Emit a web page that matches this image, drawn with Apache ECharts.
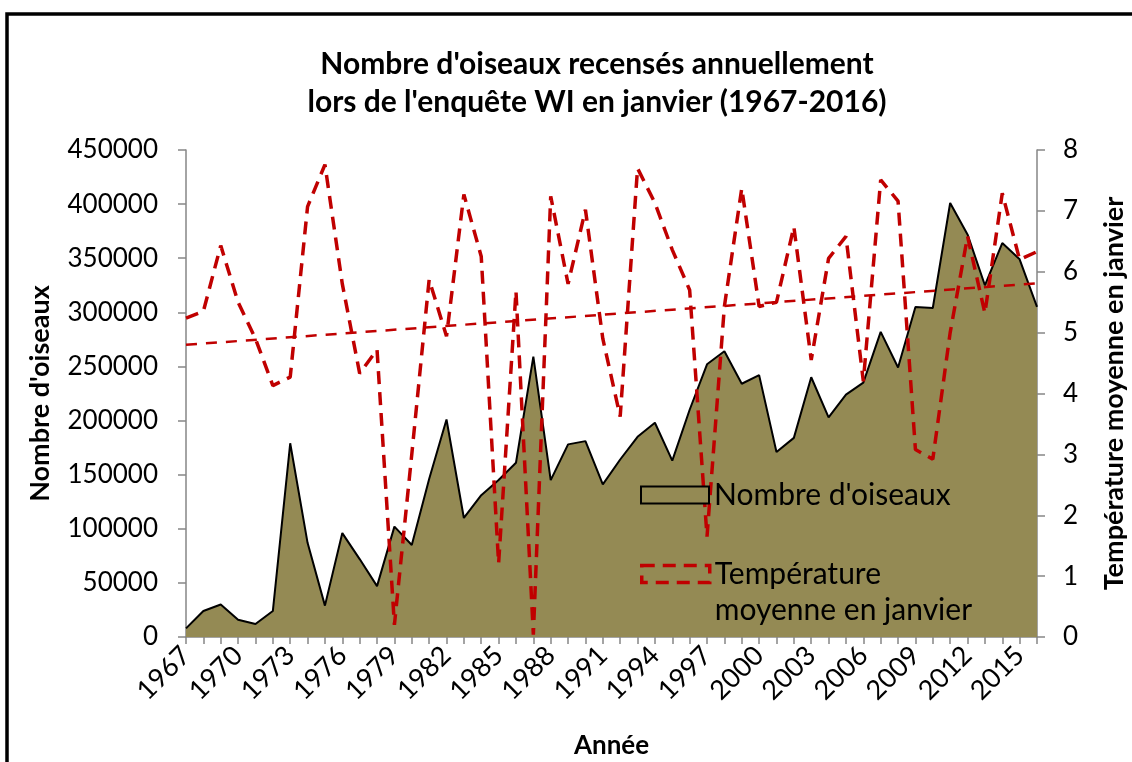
<!DOCTYPE html>
<html>
<head>
<meta charset="utf-8">
<script src="https://cdn.jsdelivr.net/npm/echarts@6/dist/echarts.min.js"></script>
<style>
html,body{margin:0;padding:0;background:#fff;}
#chart{width:1132px;height:762px;}
</style>
</head>
<body>
<div id="chart"></div>
<script>
const years = [];
for (let y = 1967; y <= 2016; y++) years.push(String(y));

const birds = [
  8000, 24000, 30000, 16000, 12000, 24000, 179000, 87000, 29000, 96000,
  72000, 47000, 102000, 85000, 146000, 201000, 110000, 131000, 145000, 161000,
  259000, 145000, 178000, 181000, 141000, 164000, 185000, 198000, 163000, 210000,
  252000, 264000, 234000, 242000, 171000, 184000, 240000, 203000, 224000, 235000,
  282000, 249000, 305000, 304000, 401000, 372000, 325000, 364000, 349000, 305000
];

const temperature = [
  5.24, 5.35, 6.43, 5.5, 4.9, 4.13, 4.27, 7.07, 7.76, 5.8,
  4.33, 4.72, 0.2, 3.0, 5.87, 4.94, 7.27, 6.25, 1.21, 5.68,
  0.04, 7.24, 5.8, 7.02, 4.9, 3.62, 7.7, 7.13, 6.36, 5.7,
  1.65, 5.43, 7.37, 5.43, 5.5, 6.74, 4.55, 6.22, 6.58, 4.2,
  7.51, 7.16, 3.08, 2.92, 5.0, 6.58, 5.32, 7.29, 6.2, 6.33
];

// trend line end points
const trendStart = 4.80;
const trendEnd = 5.81;

const FONT = 'Lato';
const RED = '#C00000';
const OLIVE = '#948A54';
const AXIS = '#868686';

const chart = echarts.init(document.getElementById('chart'), null, {renderer: 'canvas'});
chart.setOption({
  animation: false,
  backgroundColor: '#ffffff',
  textStyle: {fontFamily: FONT},
  title: {
    text: "Nombre d'oiseaux recensés annuellement\nlors de l'enquête WI en janvier (1967-2016)",
    left: 592,
    top: 40,
    textAlign: 'center',
    textStyle: {fontFamily: FONT, fontSize: 30, fontWeight: 'bold', color: '#000', lineHeight: 38}
  },
  graphic: [{
    type: 'rect',
    shape: {x: 7, y: 14, width: 1200, height: 800},
    style: {fill: 'none', stroke: '#000', lineWidth: 3.5},
    silent: true
  }],
  grid: {left: 186, right: 95, top: 150, bottom: 125, containLabel: false, outerBoundsMode: 'none'},
  legend: [{
    orient: 'vertical',
    left: 640,
    top: 478,
    padding: 0,
    itemWidth: 68,
    itemHeight: 17,
    textStyle: {fontFamily: FONT, fontSize: 30, color: '#000', lineHeight: 34},
    data: [{
      name: "Nombre d'oiseaux",
      icon: 'rect',
      itemStyle: {color: OLIVE, borderColor: '#000', borderWidth: 2}
    }]
  }, {
    orient: 'vertical',
    left: 640,
    top: 520,
    padding: 0,
    itemWidth: 68,
    itemHeight: 17,
    formatter: name => '\n' + name,
    textStyle: {fontFamily: FONT, fontSize: 30, color: '#000', lineHeight: 36},
    data: [{
      name: "Température\nmoyenne en janvier",
      icon: 'rect',
      itemStyle: {color: 'rgba(0,0,0,0)', borderColor: RED, borderWidth: 3.5, borderType: [13, 8]}
    }]
  }],
  xAxis: {
    type: 'category',
    data: years,
    boundaryGap: false,
    name: 'Année',
    nameLocation: 'middle',
    nameGap: 96,
    nameTextStyle: {fontFamily: FONT, fontSize: 26, fontWeight: 'bold', color: '#000'},
    axisLine: {lineStyle: {color: AXIS, width: 1.5}},
    axisTick: {show: true, interval: 0, length: 7, lineStyle: {color: AXIS, width: 1.5}},
    axisLabel: {interval: 2, rotate: 45, margin: 14, fontFamily: FONT, fontSize: 27, color: '#000'},
    splitLine: {show: false}
  },
  yAxis: [{
    type: 'value',
    min: 0, max: 450000, interval: 50000,
    position: 'left',
    name: "Nombre d'oiseaux",
    nameLocation: 'middle',
    nameGap: 132,
    nameTextStyle: {fontFamily: FONT, fontSize: 27, fontWeight: 'bold', color: '#000'},
    axisLine: {show: true, lineStyle: {color: AXIS, width: 1.5}},
    axisTick: {show: true, length: 8, lineStyle: {color: AXIS, width: 1.5}},
    axisLabel: {fontFamily: FONT, fontSize: 26, color: '#000', margin: 28, formatter: v => String(v)},
    splitLine: {show: false}
  }, {
    type: 'value',
    min: 0, max: 8, interval: 1,
    position: 'right',
    name: 'Température moyenne en janvier',
    nameLocation: 'middle',
    nameRotate: 90,
    nameGap: 64,
    nameTextStyle: {fontFamily: FONT, fontSize: 27, fontWeight: 'bold', color: '#000'},
    axisLine: {show: true, lineStyle: {color: AXIS, width: 1.5}},
    axisTick: {show: true, length: 8, lineStyle: {color: AXIS, width: 1.5}},
    axisLabel: {fontFamily: FONT, fontSize: 26, color: '#000', margin: 26},
    splitLine: {show: false}
  }],
  series: [{
    name: "Nombre d'oiseaux",
    type: 'line',
    yAxisIndex: 0,
    data: birds,
    symbol: 'none',
    lineStyle: {color: '#000', width: 2},
    itemStyle: {color: OLIVE},
    areaStyle: {color: OLIVE, opacity: 1},
    z: 2
  }, {
    name: "Température\nmoyenne en janvier",
    type: 'line',
    yAxisIndex: 1,
    data: temperature,
    symbol: 'none',
    lineStyle: {color: RED, width: 3.5, type: [13, 8]},
    itemStyle: {color: RED},
    z: 3,
    markLine: {
      silent: true,
      symbol: ['none', 'none'],
      label: {show: false},
      lineStyle: {color: RED, width: 2.5, type: [11, 9]},
      data: [[
        {coord: [years[0], trendStart]},
        {coord: [years[years.length - 1], trendEnd]}
      ]]
    }
  }]
});
</script>
</body>
</html>
